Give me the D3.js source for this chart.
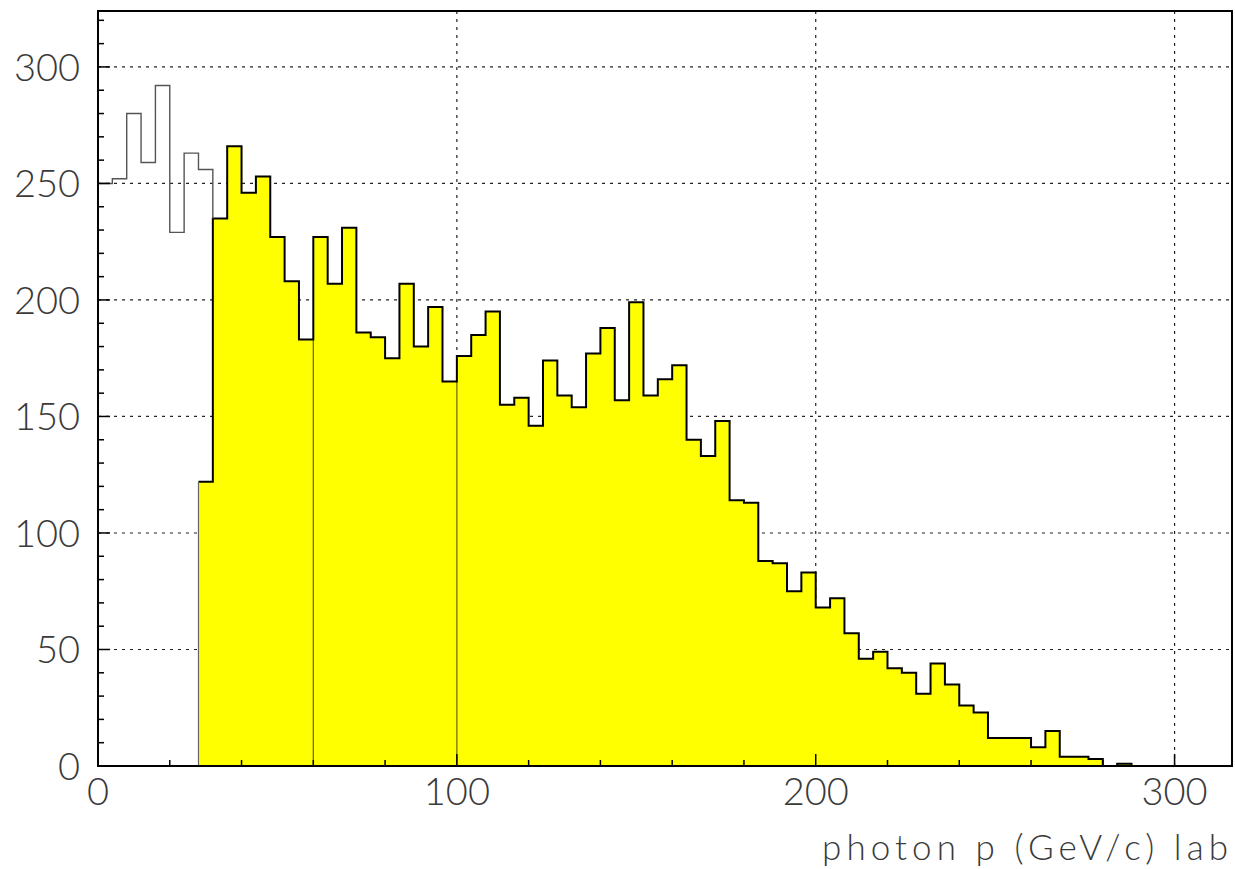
<!DOCTYPE html>
<meta charset="utf-8">
<style>
body { margin: 0; background: #fff; }
svg { display: block; }
.grid line { stroke: #222; stroke-width: 1.2; stroke-dasharray: 3,5; }
.lbl { font-family: Lato, "Open Sans", sans-serif; font-weight: 300; fill: #3a3a3a; }
</style>
<svg width="1235" height="869"></svg>
<script src="https://cdn.jsdelivr.net/npm/d3@7"></script>
<script>

// bin width 4 GeV/c, bins start at 0
var binWidth = 4;
var xMax = 316, yMax = 324;

// all photons, first bins (0..32); above 32 identical to the selected sample
var totalLow = [250, 252, 280, 259, 292, 229, 263, 256];

// selected sample (yellow), starting at bin 28-32
var selStart = 28;
var selected = [122, 235, 266, 246, 253, 227, 208, 183, 227, 207, 231, 186, 184, 175,
  207, 180, 197, 165, 176, 185, 195, 155, 158, 146, 174, 159, 154, 177, 188, 157,
  199, 159, 166, 172, 140, 133, 148, 114, 113, 88, 87, 75, 83, 68, 72, 57, 46, 49,
  42, 40, 31, 44, 35, 26, 23, 12, 12, 12, 8, 15, 4, 4, 3, 0, 1, 0, 0, 0, 0, 0, 0, 0];

// edges where the yellow region is split into separate pieces
var splitEdges = [60, 100];

var xTicksMajor = [0, 100, 200, 300];
var yTicksMajor = [0, 50, 100, 150, 200, 250, 300];

var svg = d3.select("svg");
var pLeft = 98, pRight = 1232, pTop = 11, pBottom = 766;

var x = d3.scaleLinear().domain([0, xMax]).range([pLeft, pRight]);
var y = d3.scaleLinear().domain([0, yMax]).range([pBottom, pTop]);

// build bin lists
var selBins = selected.map(function(v, i) { return {x0: selStart + i * binWidth, v: v}; });
var totalBins = totalLow.map(function(v, i) { return {x0: i * binWidth, v: v}; })
  .concat(selBins.slice(1));
function closeBins(bins) {
  var last = bins[bins.length - 1];
  return bins.concat([{x0: last.x0 + binWidth, v: last.v}]);
}

// grid
var grid = svg.append("g").attr("class", "grid");
grid.selectAll(".gx").data(xTicksMajor.filter(function(d) { return d > 0; }))
  .enter().append("line")
  .attr("x1", function(d) { return x(d); }).attr("x2", function(d) { return x(d); })
  .attr("y1", pBottom).attr("y2", pTop);
grid.selectAll(".gy").data(yTicksMajor.filter(function(d) { return d > 0; }))
  .enter().append("line")
  .attr("y1", function(d) { return y(d); }).attr("y2", function(d) { return y(d); })
  .attr("x1", pLeft).attr("x2", pRight);

// yellow fill
var area = d3.area().curve(d3.curveStepAfter)
  .x(function(d) { return x(d.x0); })
  .y0(y(0)).y1(function(d) { return y(d.v); });
svg.append("path").datum(closeBins(selBins))
  .attr("d", area).attr("fill", "#ffff00").attr("stroke", "none");

// thin borders between the yellow pieces
function heightAt(e) {
  var a = selBins.find(function(b) { return b.x0 === e - binWidth; });
  var b = selBins.find(function(b) { return b.x0 === e; });
  return Math.min(a.v, b.v);
}
svg.selectAll(".split").data(splitEdges).enter().append("line")
  .attr("x1", function(d) { return x(d); })
  .attr("x2", function(d) { return x(d); })
  .attr("y1", y(0))
  .attr("y2", function(d) { return y(heightAt(d)); })
  .attr("stroke", "#000").attr("stroke-opacity", 0.55).attr("stroke-width", 1.3);

var line = d3.line().curve(d3.curveStepAfter)
  .x(function(d) { return x(d.x0); })
  .y(function(d) { return y(d.v); });

// yellow outline
svg.append("path").datum(closeBins(selBins))
  .attr("d", line).attr("fill", "none").attr("stroke", "#000").attr("stroke-width", 2);

// left edge of the yellow region
svg.append("line")
  .attr("x1", x(selStart)).attr("x2", x(selStart))
  .attr("y1", y(0)).attr("y2", y(selected[0]))
  .attr("stroke", "#666").attr("stroke-width", 1.2);

// total histogram outline (only the part that differs)
svg.append("path").datum(totalBins.slice(0, totalLow.length + 1))
  .attr("d", line).attr("fill", "none").attr("stroke", "#555").attr("stroke-width", 1.4);

// frame
svg.append("rect")
  .attr("x", pLeft).attr("y", pTop)
  .attr("width", pRight - pLeft).attr("height", pBottom - pTop)
  .attr("fill", "none").attr("stroke", "#000").attr("stroke-width", 2);

// y ticks (inward)
var yMinor = d3.range(0, yMax + 1, 10);
svg.selectAll(".ytick").data(yMinor).enter().append("line")
  .attr("x1", pLeft)
  .attr("x2", function(d) { return pLeft + (d % 50 === 0 ? 12 : 6); })
  .attr("y1", function(d) { return y(d); }).attr("y2", function(d) { return y(d); })
  .attr("stroke", "#000").attr("stroke-width", 1.5);

// x ticks (inward)
var xMinor = d3.range(0, xMax + 1, 20);
svg.selectAll(".xtick").data(xMinor).enter().append("line")
  .attr("x1", function(d) { return x(d); }).attr("x2", function(d) { return x(d); })
  .attr("y1", pBottom)
  .attr("y2", function(d) { return pBottom - (d % 100 === 0 ? 12 : 6); })
  .attr("stroke", "#000").attr("stroke-width", 1.5);

// tick labels
svg.selectAll(".ylab").data(yTicksMajor).enter().append("text")
  .attr("class", "lbl")
  .attr("x", 80).attr("y", function(d) { return y(d); })
  .attr("dy", "0.36em")
  .attr("text-anchor", "end")
  .style("font-size", "38px")
  .text(function(d) { return d; });

svg.selectAll(".xlab").data(xTicksMajor).enter().append("text")
  .attr("class", "lbl")
  .attr("x", function(d) { return x(d); }).attr("y", 805)
  .attr("text-anchor", "middle")
  .style("font-size", "38px")
  .text(function(d) { return d; });

// axis title
svg.append("text")
  .attr("class", "lbl")
  .attr("x", 1228).attr("y", 860)
  .attr("text-anchor", "end")
  .attr("textLength", 406).attr("lengthAdjust", "spacing")
  .style("font-size", "35px")
  .text("photon p (GeV/c) lab");

</script>
